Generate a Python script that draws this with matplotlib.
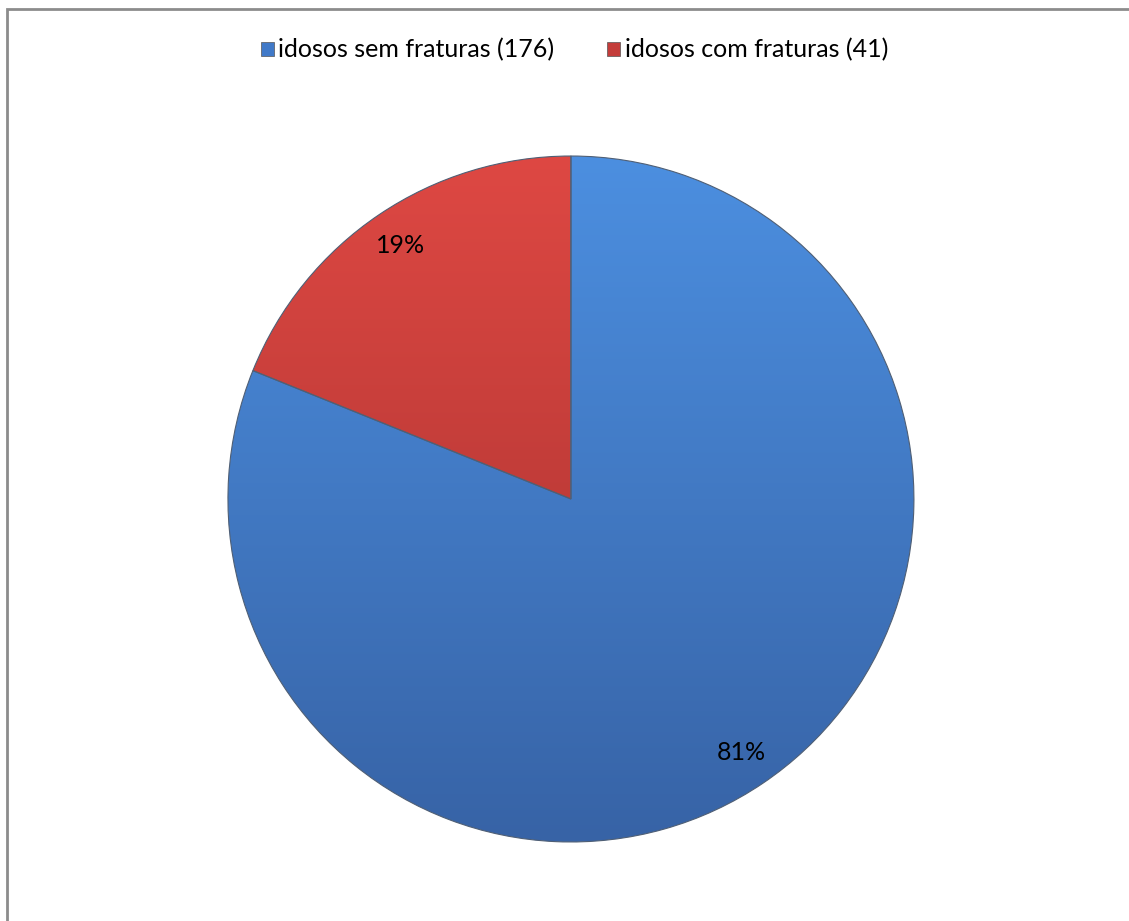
import matplotlib.pyplot as plt
import numpy as np
from matplotlib.patches import Rectangle

categorias = ["idosos sem fraturas (176)", "idosos com fraturas (41)"]
valores = [176, 41]
cores_topo = ["#4c8fe0", "#de4843"]
cores_base = ["#3763a6", "#a3302e"]
cores = ["#4079c8", "#c43d3a"]

plt.rcParams['font.family'] = ['Lato', 'DejaVu Sans']

fig = plt.figure(figsize=(11.29, 9.21), dpi=100)
ax = fig.add_axes([0.2019, 0.0858, 0.6076, 0.7448])

wedges, textos, autotextos = ax.pie(
    valores, colors=cores, startangle=90, counterclock=False,
    autopct="%1.0f%%", pctdistance=0.89,
    wedgeprops=dict(edgecolor="#4f5f75", linewidth=0.8),
    textprops=dict(fontsize=18, color="black"))
ax.set_aspect("equal")
ax.set_xlim(-1.0, 1.0)
ax.set_ylim(-1.0, 1.0)

# gradiente vertical dentro de cada fatia
for w, c1, c2 in zip(wedges, cores_topo, cores_base):
    a = np.array(plt.matplotlib.colors.to_rgb(c1))
    b = np.array(plt.matplotlib.colors.to_rgb(c2))
    t = np.linspace(0, 1, 256)[:, None]
    grad = (a * (1 - t) + b * t)[:, None, :]
    im = ax.imshow(grad, extent=[-1, 1, -1, 1], origin="upper", zorder=w.get_zorder() - 0.1, aspect="auto")
    im.set_clip_path(w)
    w.set_facecolor("none")
for t in autotextos:
    t.set_zorder(5)

handles = [Rectangle((0, 0), 1, 1, facecolor=c, edgecolor="#555555", linewidth=0.5) for c in cores]
fig.legend(handles, categorias, loc="center", bbox_to_anchor=(0.5 + 10 / 1129, 1 - 50 / 921), ncol=2,
           frameon=False, fontsize=18, handlelength=0.5, handleheight=0.5,
           handletextpad=0.2, columnspacing=2.1)

# moldura do gráfico
fig.patches.append(Rectangle((6.5 / 1129, -0.1), 1.2, 1 - 9.5 / 921 + 0.1, transform=fig.transFigure,
                             fill=False, edgecolor="#8c8c8c", linewidth=2))

fig.savefig("out.png", dpi=100)
